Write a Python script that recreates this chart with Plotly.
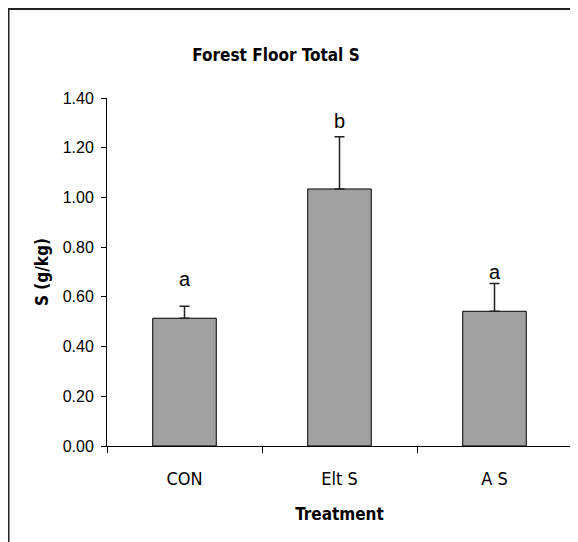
import plotly.graph_objects as go

categories = ["CON", "Elt S", "A S"]
means = [0.514, 1.034, 0.542]
errors = [0.048, 0.210, 0.112]
letters = ["a", "b", "a"]
letter_y = [0.673, 1.307, 0.700]
y_ticks = [0.0, 0.2, 0.4, 0.6, 0.8, 1.0, 1.2, 1.4]

xpos = list(range(len(categories)))

W, H = 570, 534
L, R, T, B = 99, 6, 90, 96
PW, PH = W - L - R, H - T - B

fig = go.Figure()
fig.add_trace(go.Bar(
    x=xpos, y=means, width=0.41,
    marker=dict(color="#a0a0a0", line=dict(color="#000000", width=1)),
    error_y=dict(type="data", array=errors, symmetric=False, arrayminus=[0]*3,
                 color="#222222", thickness=1.5, width=5),
    showlegend=False, hoverinfo="skip",
))
# invisible trace to host category-boundary ticks
fig.add_trace(go.Scatter(x=[-0.5, 2.5], y=[0, 0], xaxis="x2", mode="lines",
                         line=dict(width=0), showlegend=False, hoverinfo="skip"))

for i, (ly, l) in enumerate(zip(letter_y, letters)):
    fig.add_annotation(x=i, y=ly, text=l, showarrow=False, yanchor="middle",
                       font=dict(family="Liberation Sans, Arial", size=20, color="#000"))

cat_font = dict(family="DejaVu Sans Condensed, DejaVu Sans", size=18, color="#000")
fig.update_layout(
    width=W, height=H,
    margin=dict(l=L, r=R, t=T, b=B),
    paper_bgcolor="white", plot_bgcolor="white",
    title=dict(text="<b>Forest Floor Total S</b>", x=268/W, xanchor="center",
               y=1 - 47/H, yanchor="middle",
               font=dict(family="DejaVu Sans Condensed, DejaVu Sans", size=17, color="#000")),
    xaxis=dict(range=[-0.5, 2.5], tickvals=xpos, ticktext=categories, ticks="",
               ticklabelstandoff=16,
               showline=True, linecolor="#000", linewidth=1, showgrid=False, zeroline=False,
               tickfont=cat_font,
               title=dict(text="<b>Treatment</b>", standoff=20,
                          font=dict(family="DejaVu Sans Condensed, DejaVu Sans", size=17, color="#000")),
               fixedrange=True),
    xaxis2=dict(range=[-0.5, 2.5], overlaying="x", side="bottom",
                tickvals=[-0.5, 0.5, 1.5, 2.5], ticks="outside", ticklen=6,
                tickcolor="#000", tickwidth=1, showticklabels=False,
                showline=False, showgrid=False, zeroline=False),
    yaxis=dict(range=[0, 1.4], tickvals=y_ticks, ticktext=[f"{v:.2f}" for v in y_ticks],
               ticks="outside", ticklen=5, tickcolor="#000", tickwidth=1,
               ticklabelstandoff=4,
               showline=True, linecolor="#000", linewidth=1, showgrid=False, zeroline=False,
               tickfont=dict(family="Liberation Sans, Arial", size=16, color="#000"),
               title=dict(text="<b>S (g/kg)</b>", standoff=9,
                          font=dict(family="DejaVu Sans Condensed, DejaVu Sans", size=17, color="#000"))),
)

# chart frame (top and left edges)
fig.add_shape(type="line", xref="paper", yref="paper",
              x0=-L/PW, x1=1.05, y0=1 + 89/PH, y1=1 + 89/PH,
              line=dict(color="#222", width=2))
fig.add_shape(type="line", xref="paper", yref="paper",
              x0=(0.5 - L)/PW, x1=(0.5 - L)/PW, y0=1 + 89/PH, y1=-110/PH,
              line=dict(color="#222", width=2))

fig.write_html("out.html")
